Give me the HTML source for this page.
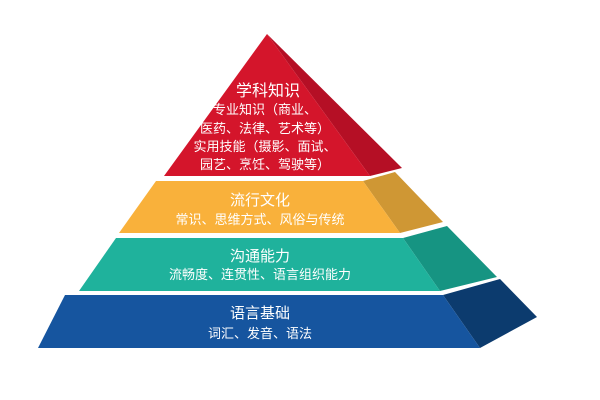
<!DOCTYPE html>
<html><head><meta charset="utf-8"><style>
html,body{margin:0;padding:0;background:#fff;width:600px;height:400px;overflow:hidden}
svg text{font-family:"Liberation Sans","Noto Sans CJK SC",sans-serif;fill:#fff;text-anchor:middle}
</style></head><body>
<svg width="600" height="400" viewBox="0 0 600 400">
<polygon points="267,34 402,168 370,176" fill="#b50f25"/>
<polygon points="267,34 370,176 164,176" fill="#d4152b"/>
<polygon points="363,181 395,172 443,222 400,233" fill="#cf9734"/>
<polygon points="156,181 363,181 400,233 119,233" fill="#f9b13b"/>
<polygon points="403,238 447,226 497,277 440,291" fill="#169482"/>
<polygon points="116,238 403,238 440,291 79,291" fill="#1fb29c"/>
<polygon points="443,295 500,279 537,317 480,348" fill="#0c3b6e"/>
<polygon points="65,295 443,295 480,348 38,348" fill="#16559f"/>
<text x="268" y="96" font-size="16">学科知识</text>
<text x="265" y="114" font-size="13">专业知识（商业、</text>
<text x="265" y="133" font-size="13">医药、法律、艺术等）</text>
<text x="265" y="151" font-size="13">实用技能（摄影、面试、</text>
<text x="265" y="169" font-size="13">园艺、烹饪、驾驶等）</text>
<text x="260" y="205" font-size="15">流行文化</text>
<text x="260" y="224" font-size="13">常识、思维方式、风俗与传统</text>
<text x="260" y="261" font-size="15">沟通能力</text>
<text x="260" y="279" font-size="13">流畅度、连贯性、语言组织能力</text>
<text x="260" y="318" font-size="15">语言基础</text>
<text x="260" y="338" font-size="13">词汇、发音、语法</text>
</svg>
</body></html>
